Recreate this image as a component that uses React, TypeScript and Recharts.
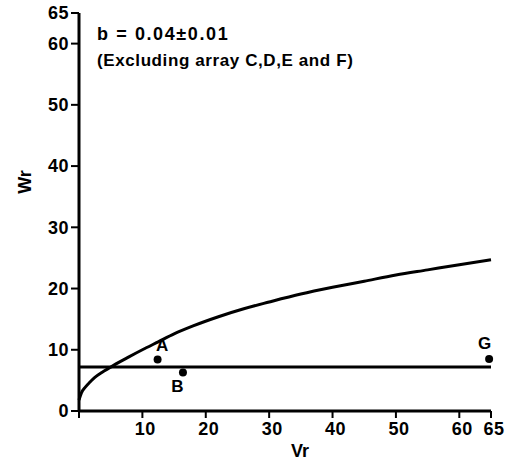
import { ComposedChart, Line, Scatter, XAxis, YAxis, LabelList } from "recharts";

const curveX = [0, 0.4, 1, 1.7, 2.5, 3.6, 4.9, 6.2, 7.8, 10, 12.5, 15, 18, 22, 26, 30, 35, 40, 45, 50, 55, 60, 65];
const curveY = [1.8, 3.0, 3.9, 4.7, 5.5, 6.3, 7.1, 7.9, 8.8, 10.0, 11.3, 12.6, 13.9, 15.4, 16.7, 17.8, 19.1, 20.2, 21.2, 22.2, 23.05, 23.9, 24.7];

const meanX = [0, 65];
const meanY = [7.2, 7.2];

const pointNames = ["A", "B", "G"];
const pointX = [12.4, 16.4, 64.7];
const pointY = [8.4, 6.3, 8.5];

const xTicks = [0, 10, 20, 30, 40, 50, 60, 65];
const yTicks = [0, 10, 20, 30, 40, 50, 60, 65];

const curve = curveX.map((x, i) => ({ x, y: curveY[i] }));
const mean = meanX.map((x, i) => ({ x, y: meanY[i] }));
const points = pointNames.map((name, i) => ({ name, x: pointX[i], y: pointY[i] }));

const font = "'Liberation Sans', Arial, sans-serif";

// where each point's letter sits relative to its dot
const labelOffset: Record<string, [number, number]> = {
  A: [9, -4],
  B: [-1, 24],
  G: [0, -5],
};

function PointLabel(props: any) {
  const { x, y, value } = props;
  const [dx, dy] = labelOffset[value] || [0, 0];
  return (
    <text x={x + dx} y={y + dy} textAnchor="middle" fontSize={17} fontWeight="bold" fontFamily={font} fill="#000">
      {value}
    </text>
  );
}

export default function App() {
  const tick = { fill: "#000", fontSize: 18, fontWeight: "bold", fontFamily: font };
  const txt = { fontFamily: font, fontWeight: "bold" as const, fill: "#000" };
  return (
    <div style={{ position: "absolute", left: 0, top: 0, width: 516, height: 462, background: "#fff" }}>
      <ComposedChart width={516} height={462} margin={{ top: 13, right: 25, left: 19, bottom: 21 }}>
        <XAxis
          type="number"
          dataKey="x"
          domain={[0, 65]}
          ticks={xTicks}
          interval={0}
          tickFormatter={(v) => (v === 0 ? "" : String(v))}
          height={30}
          tickSize={7}
          tickMargin={4}
          tick={{ ...tick, dx: 3, letterSpacing: 0.5 }}
          stroke="#000"
          axisLine={{ strokeWidth: 3 }}
          tickLine={{ strokeWidth: 2 }}
        />
        <YAxis
          type="number"
          dataKey="y"
          domain={[0, 65]}
          ticks={yTicks}
          interval={0}
          width={60}
          tickSize={8}
          tick={{ ...tick, letterSpacing: 0.5 }}
          stroke="#000"
          axisLine={{ strokeWidth: 3 }}
          tickLine={{ strokeWidth: 2 }}
        />
        <Line data={curve} dataKey="y" type="monotone" stroke="#000" strokeWidth={3} dot={false} isAnimationActive={false} />
        <Line data={mean} dataKey="y" type="linear" stroke="#000" strokeWidth={3} dot={false} isAnimationActive={false} />
        <Scatter
          data={points}
          dataKey="y"
          fill="#000"
          shape={(p: any) => <circle cx={p.cx} cy={p.cy} r={4} fill="#000" />}
          isAnimationActive={false}
        >
          <LabelList dataKey="name" content={PointLabel} />
        </Scatter>
      </ComposedChart>
      <svg width={516} height={462} style={{ position: "absolute", left: 0, top: 0, pointerEvents: "none" }}>
        <text x={97} y={40} fontSize={18} letterSpacing={1.6} {...txt}>
          b = 0.04±0.01
        </text>
        <text x={97} y={66} fontSize={17} letterSpacing={0.6} {...txt}>
          (Excluding array C,D,E and F)
        </text>
        <text x={300} y={457} fontSize={18} textAnchor="middle" {...txt}>
          Vr
        </text>
        <text x={31} y={182} fontSize={18} textAnchor="middle" transform="rotate(-90 31 182)" {...txt}>
          Wr
        </text>
      </svg>
    </div>
  );
}
